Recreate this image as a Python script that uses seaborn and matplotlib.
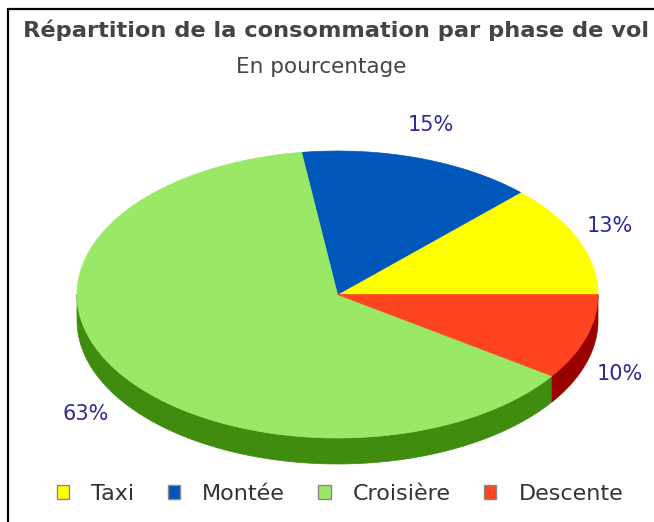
import numpy as np
import matplotlib
matplotlib.use("Agg")
import matplotlib.pyplot as plt
import seaborn as sns
from matplotlib.patches import Patch, Polygon
from matplotlib.lines import Line2D

# data (slice sizes estimated from the angles, labels rounded)
phases = ["Taxi", "Montée", "Croisière", "Descente"]
shares = [12.6, 14.6, 63.2, 9.6]
top_colors = ["#ffff00", "#0057bb", "#99e866", "#ff4422"]
side_colors = ["#bbbb00", "#003a80", "#3f8c0f", "#990000"]

TITLE = "Répartition de la consommation par phase de vol"
SUBTITLE = "En pourcentage"

W, H = 654, 522
CX, CY = 337.5, 294.5      # pie centre, px from top-left
RX, RY = 260.5, 143.5      # ellipse radii, px
DEPTH = 26 / RY            # 3d thickness in y data units


def main():
    sns.set_style("white")
    plt.rcParams["font.family"] = ["DejaVu Sans"]

    fig = plt.figure(figsize=(W / 100, H / 100), dpi=100)
    ax = fig.add_axes([0, 0, 1, 1])

    total = sum(shares)
    angles = np.cumsum([0] + [s / total * 360 for s in shares])

    # side walls of the front half
    for i in range(len(shares)):
        lo, hi = max(angles[i], 180), min(angles[i + 1], 360)
        if hi <= lo:
            continue
        t = np.radians(np.linspace(lo, hi, 80))
        top = np.column_stack([np.cos(t), np.sin(t)])
        bot = np.column_stack([np.cos(t), np.sin(t) - DEPTH])[::-1]
        ax.add_patch(Polygon(np.vstack([top, bot]), closed=True,
                             facecolor=side_colors[i], edgecolor=side_colors[i],
                             linewidth=0.5, zorder=1))

    wedges, _ = ax.pie(shares, colors=top_colors, startangle=0, counterclock=True,
                       wedgeprops=dict(linewidth=0.5))
    for w, c in zip(wedges, top_colors):
        w.set_edgecolor(c)
        w.set_zorder(2)

    # percentage labels
    for i, s in enumerate(shares):
        mid = np.radians((angles[i] + angles[i + 1]) / 2)
        lx = np.cos(mid) * (1 + 35 / RX)
        ly = np.sin(mid) * (1 + 35 / RY)
        if np.sin(mid) < 0:
            ly -= DEPTH
        ax.text(lx, ly, f"{s:.0f}%", ha="center", va="center",
                fontsize=15, color="#2a2a96")

    ax.set_aspect("auto")
    ax.set_xlim(-CX / RX, (W - CX) / RX)
    ax.set_ylim(-(H - CY) / RY, CY / RY)
    ax.axis("off")

    fig.text(336 / W, 1 - 30 / H, TITLE, ha="center", va="center",
             fontsize=16.2, fontweight="bold", color="#444444")
    fig.text(321 / W, 1 - 67 / H, SUBTITLE, ha="center", va="center",
             fontsize=15.5, color="#444444")

    handles = [Patch(facecolor=c, edgecolor="#888888", linewidth=1) for c in top_colors]
    fig.legend(handles, phases, loc="center", ncol=4, frameon=False,
               bbox_to_anchor=(340 / W, 1 - 494 / H), fontsize=16,
               handlelength=0.55, handleheight=0.55, handletextpad=1.0,
               columnspacing=1.5, labelcolor="#333333")

    # chart frame (cropped on the right and bottom)
    fig.add_artist(Line2D([7.5 / W, 7.5 / W], [0, 1 - 8.5 / H], color="black", lw=1.6))
    fig.add_artist(Line2D([7.5 / W, 1], [1 - 8.5 / H, 1 - 8.5 / H], color="black", lw=1.6))

    fig.savefig("out.png", dpi=100, facecolor="white")


if __name__ == "__main__":
    main()
